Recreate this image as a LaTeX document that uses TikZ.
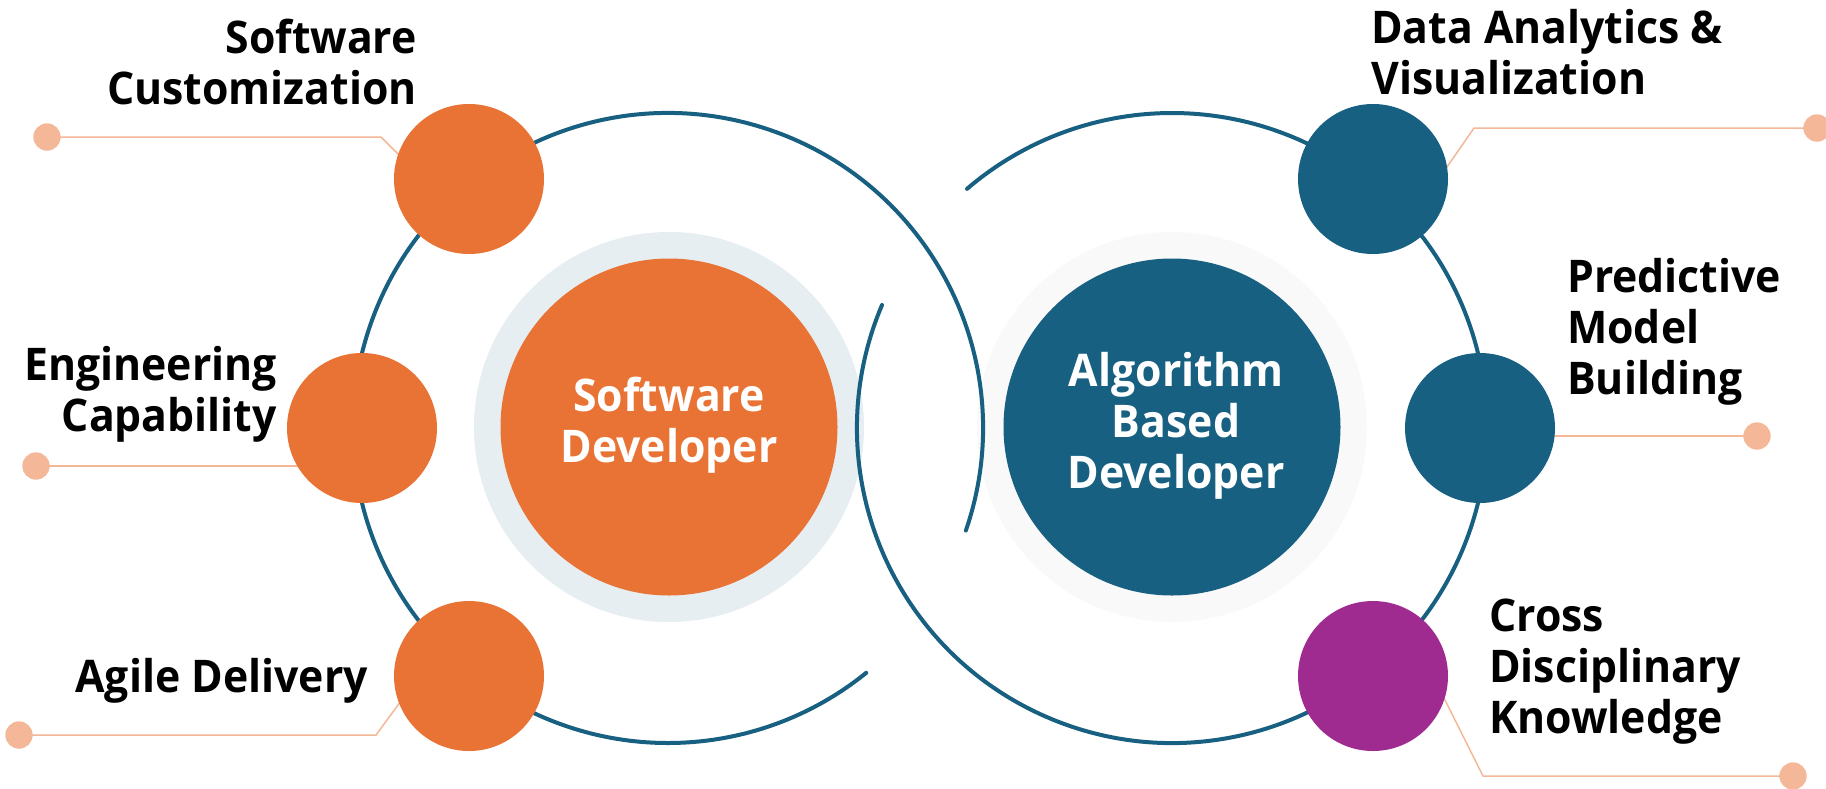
\documentclass[tikz,border=0pt]{standalone}
\usepackage{fontspec}
\setmainfont{Open Sans}[FakeStretch=0.95]
\definecolor{cOrange}{HTML}{E97334}
\definecolor{cBlue}{HTML}{186081}
\definecolor{cPurple}{HTML}{A02B90}
\definecolor{cSalmon}{HTML}{F4B898}
\definecolor{cHaloL}{HTML}{E6EEF2}
\definecolor{cHaloR}{HTML}{F9F9F9}
\begin{document}
\begin{tikzpicture}[x=1pt,y=1pt,
  labfont/.style={font=\fontsize{45}{51}\selectfont\bfseries},
  lab/.style={labfont, inner sep=0pt, text=black},
  halo/.style={circle, inner sep=0pt, minimum size=390pt},
  bigc/.style={circle, inner sep=0pt, minimum size=337pt, labfont, text=white},
  smallc/.style={circle, inner sep=0pt, minimum size=150pt},
  dotc/.style={circle, inner sep=0pt, minimum size=27pt, fill=cSalmon},
  leader/.style={draw=cSalmon, line width=1.5pt},
  ring/.style={draw=cBlue, line width=4pt, line cap=round}]
\useasboundingbox (0,0) rectangle (1826,-788);
\fill[white] (0,0) rectangle (1826,-788);
% centres of the two big rings
\coordinate (cL) at (668,-428);
\coordinate (cR) at (1172,-428);
% halos and big circles
\node[halo, fill=cHaloL] (haloL) at (669,-427) {};
\node[halo, fill=cHaloR] (haloR) at (1172,-427) {};
\node[bigc, fill=cOrange] (sd) at (669,-427) {\begin{tabular}{@{}c@{}}Software\\Developer\end{tabular}};
\node[bigc, fill=cBlue] (abd) at (1172,-427) {\hspace*{8pt}\begin{tabular}{@{}c@{}}Algorithm\\Based\\Developer\end{tabular}};
% rings
\draw[ring] ([shift={(-19:315pt)}]cL) arc[start angle=-19, end angle=309, radius=315pt];
\draw[ring] ([shift={(157:315pt)}]cR) arc[start angle=157, end angle=490.6, radius=315pt];
% leader end points
\coordinate (k1) at (381,-137);
\coordinate (e1) at (430,-186);
\coordinate (e2) at (340,-466);
\coordinate (k3) at (376,-735);
\coordinate (e3) at (412,-686);
\coordinate (k4) at (1474,-128);
\coordinate (e4) at (1420,-206);
\coordinate (e5) at (1450,-436);
\coordinate (k6) at (1483,-776);
\coordinate (e6) at (1420,-650);
% dots
\node[dotc] (d1) at (47,-137) {};
\node[dotc] (d2) at (36,-466) {};
\node[dotc] (d3) at (19,-735) {};
\node[dotc] (d4) at (1817,-128) {};
\node[dotc] (d5) at (1757,-436) {};
\node[dotc] (d6) at (1793,-776) {};
% leaders
\draw[leader] (d1.center) -- (k1) -- (e1);
\draw[leader] (d2.center) -- (e2);
\draw[leader] (d3.center) -- (k3) -- (e3);
\draw[leader] (d4.center) -- (k4) -- (e4);
\draw[leader] (d5.center) -- (e5);
\draw[leader] (d6.center) -- (k6) -- (e6);
\node[dotc] at (d1) {};
\node[dotc] at (d2) {};
\node[dotc] at (d3) {};
\node[dotc] at (d4) {};
\node[dotc] at (d5) {};
\node[dotc] at (d6) {};
% small circles
\node[smallc, fill=cOrange] (sc) at (469,-179) {};
\node[smallc, fill=cOrange] (ec) at (362,-428) {};
\node[smallc, fill=cOrange] (ad) at (469,-676) {};
\node[smallc, fill=cBlue] (da) at (1373,-179) {};
\node[smallc, fill=cBlue] (pm) at (1480,-428) {};
\node[smallc, fill=cPurple] (cd) at (1373,-676) {};
% labels
\node[lab, anchor=base east] (t1) at (417,-53) {\begin{tabular}[t]{@{}r@{}}Software\\Customization\end{tabular}};
\node[lab, anchor=base east] (t2) at (277,-380) {\begin{tabular}[t]{@{}r@{}}Engineering\\Capability\end{tabular}};
\node[lab, anchor=base east] (t3) at (368,-692) {Agile Delivery};
\node[lab, anchor=base west] (t4) at (1371,-43) {\begin{tabular}[t]{@{}l@{}}Data Analytics \&\\Visualization\end{tabular}};
\node[lab, anchor=base west] (t5) at (1567,-292) {\begin{tabular}[t]{@{}l@{}}Predictive\\Model\\Building\end{tabular}};
\node[lab, anchor=base west] (t6) at (1489,-631) {\begin{tabular}[t]{@{}l@{}}Cross\\Disciplinary\\Knowledge\end{tabular}};
\end{tikzpicture}
\end{document}
